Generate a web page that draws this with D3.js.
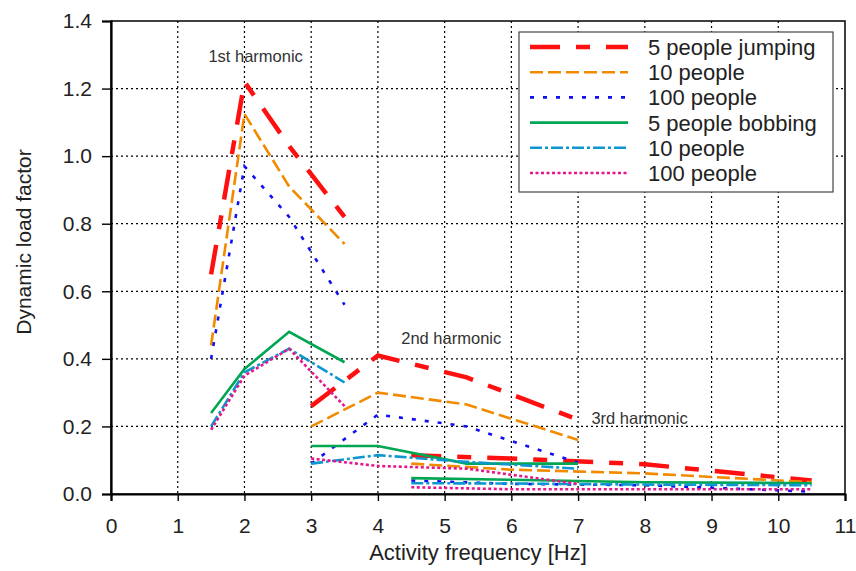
<!DOCTYPE html>
<html>
<head>
<meta charset="utf-8">
<script src="https://cdn.jsdelivr.net/npm/d3@7"></script>
<style>
  body { margin: 0; background: #fff; }
  svg { display: block; font-family: "Liberation Sans", Arial, sans-serif; }
</style>
</head>
<body>
<svg id="chart" width="856" height="571"></svg>
<script>
// frequencies of the three harmonics (Hz)
var freq1 = [1.5, 2, 2.67, 3.5];
var freq2 = [3, 4, 5.33, 7];
var freq3 = [4.5, 6, 8, 10.5];

// dynamic load factors
var jump5H1 = [0.65, 1.22, 1.03, 0.82];
var jump5H2 = [0.26, 0.41, 0.345, 0.22];
var jump5H3 = [0.115, 0.105, 0.088, 0.04];

var jump10H1 = [0.44, 1.125, 0.91, 0.74];
var jump10H2 = [0.20, 0.30, 0.265, 0.16];
var jump10H3 = [0.09, 0.072, 0.061, 0.035];

var jump100H1 = [0.40, 0.97, 0.82, 0.56];
var jump100H2 = [0.09, 0.235, 0.20, 0.093];
var jump100H3 = [0.04, 0.03, 0.026, 0.007];

var bob5H1 = [0.24, 0.37, 0.48, 0.39];
var bob5H2 = [0.142, 0.142, 0.09, 0.09];
var bob5H3 = [0.047, 0.042, 0.035, 0.032];

var bob10H1 = [0.20, 0.36, 0.43, 0.33];
var bob10H2 = [0.09, 0.115, 0.095, 0.075];
var bob10H3 = [0.032, 0.031, 0.028, 0.026];

var bob100H1 = [0.19, 0.35, 0.43, 0.26];
var bob100H2 = [0.105, 0.083, 0.075, 0.03];
var bob100H3 = [0.02, 0.014, 0.014, 0.014];

var legendLabels = ["5 people jumping", "10 people", "100 people",
                    "5 people bobbing", "10 people", "100 people"];
var xTicks = [0, 1, 2, 3, 4, 5, 6, 7, 8, 9, 10, 11];
var yTicks = [0, 0.2, 0.4, 0.6, 0.8, 1.0, 1.2, 1.4];

var notes = [
  {text: "1st harmonic", f: 1.46, v: 1.28},
  {text: "2nd harmonic", f: 4.35, v: 0.445},
  {text: "3rd harmonic", f: 7.2, v: 0.207}
];

var styles = [
  {color: "#ff1010", width: 4.5, dash: "30,16,14,16"},
  {color: "#f28a00", width: 2.6, dash: "13,5"},
  {color: "#1010f0", width: 2.6, dash: "4,9"},
  {color: "#00a651", width: 2.6, dash: null},
  {color: "#0d96cf", width: 2.6, dash: "12,3,3,3"},
  {color: "#e6168c", width: 2.6, dash: "3,2.5"}
];

var series = [
  [jump5H1, jump5H2, jump5H3],
  [jump10H1, jump10H2, jump10H3],
  [jump100H1, jump100H2, jump100H3],
  [bob5H1, bob5H2, bob5H3],
  [bob10H1, bob10H2, bob10H3],
  [bob100H1, bob100H2, bob100H3]
];
var freqs = [freq1, freq2, freq3];

var mLeft = 111, mTop = 21, mRight = 845, mBottom = 494;
var svg = d3.select("#chart");

var x = d3.scaleLinear().domain([0, 11]).range([mLeft, mRight]);
var y = d3.scaleLinear().domain([0, 1.4]).range([mBottom, mTop]);

// grid
svg.append("g").selectAll("line")
  .data(xTicks.filter(function(d){ return d > 0 && d < 11; }))
  .enter().append("line")
  .attr("x1", function(d){ return x(d); }).attr("x2", function(d){ return x(d); })
  .attr("y1", mTop).attr("y2", mBottom)
  .attr("stroke", "#000").attr("stroke-width", 1.2).attr("stroke-dasharray", "2,3");
svg.append("g").selectAll("line")
  .data(yTicks.filter(function(d){ return d > 0 && d < 1.4; }))
  .enter().append("line")
  .attr("y1", function(d){ return y(d); }).attr("y2", function(d){ return y(d); })
  .attr("x1", mLeft).attr("x2", mRight)
  .attr("stroke", "#000").attr("stroke-width", 1.2).attr("stroke-dasharray", "2,3");

// frame
svg.append("rect")
  .attr("x", mLeft).attr("y", mTop)
  .attr("width", mRight - mLeft).attr("height", mBottom - mTop)
  .attr("fill", "none").attr("stroke", "#000").attr("stroke-width", 1.5);

// axes
var xAxis = svg.append("g")
  .attr("transform", "translate(0," + mBottom + ")")
  .call(d3.axisBottom(x).tickValues(xTicks).tickSize(7).tickPadding(17)
    .tickFormat(d3.format("d")));
var yAxis = svg.append("g")
  .attr("transform", "translate(" + mLeft + ",0)")
  .call(d3.axisLeft(y).tickValues(yTicks).tickSize(9).tickPadding(10)
    .tickFormat(d3.format(".1f")));
[xAxis, yAxis].forEach(function(a){
  a.select(".domain").attr("stroke-width", 2.2).attr("stroke", "#000");
  a.selectAll(".tick line").attr("stroke-width", 1.4).attr("stroke", "#000");
  a.selectAll(".tick text").attr("font-size", 21).attr("fill", "#222")
    .attr("font-family", "Liberation Sans, Arial, sans-serif");
});

// axis titles
svg.append("text")
  .attr("x", (mLeft + mRight) / 2).attr("y", 560)
  .attr("text-anchor", "middle").attr("font-size", 22).attr("fill", "#222")
  .text("Activity frequency [Hz]");
svg.append("text")
  .attr("transform", "translate(31,242) rotate(-90)")
  .attr("text-anchor", "middle").attr("font-size", 21).attr("fill", "#222")
  .text("Dynamic load factor");

// lines
var line = d3.line()
  .x(function(d){ return x(d[0]); })
  .y(function(d){ return y(d[1]); });

var plot = svg.append("g");
series.forEach(function(harms, i){
  var st = styles[i];
  harms.forEach(function(vals, h){
    var pts = d3.zip(freqs[h], vals);
    plot.append("path")
      .datum(pts)
      .attr("d", line)
      .attr("fill", "none")
      .attr("stroke", st.color)
      .attr("stroke-width", st.width)
      .attr("stroke-dasharray", st.dash)
      .attr("stroke-linejoin", "miter");
  });
});

// harmonic notes
svg.append("g").selectAll("text")
  .data(notes).enter().append("text")
  .attr("x", function(d){ return x(d.f); })
  .attr("y", function(d){ return y(d.v); })
  .attr("font-size", 16.5).attr("fill", "#333")
  .text(function(d){ return d.text; });

// legend
var lg = svg.append("g");
lg.append("rect")
  .attr("x", 519).attr("y", 32).attr("width", 314).attr("height", 160)
  .attr("fill", "#fff").attr("stroke", "#444").attr("stroke-width", 1.2);
legendLabels.forEach(function(lab, i){
  var yy = 47 + i * 25.2;
  var st = styles[i];
  lg.append("line")
    .attr("x1", 530).attr("x2", 628).attr("y1", yy).attr("y2", yy)
    .attr("stroke", st.color).attr("stroke-width", st.width)
    .attr("stroke-dasharray", st.dash);
  lg.append("text")
    .attr("x", 648).attr("y", yy + 8)
    .attr("font-size", 22).attr("fill", "#222")
    .text(lab);
});
</script>
</body>
</html>
